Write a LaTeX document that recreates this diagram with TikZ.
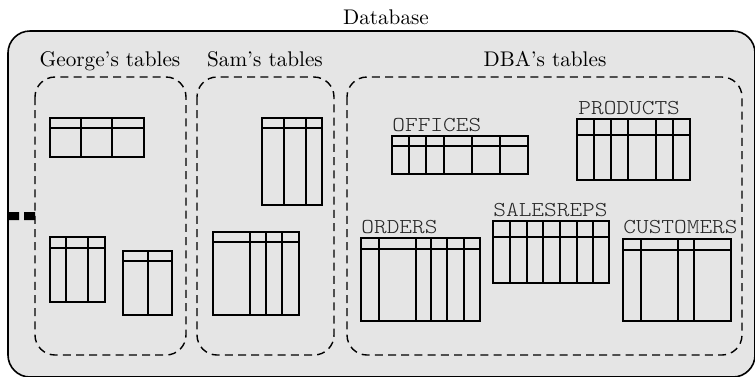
\documentclass[tikz,border=0pt]{standalone}
\usepackage{fontspec}
\newfontfamily\tabfont{lmmonolt10-regular.otf}[FakeStretch=1.14]
\usepackage{tikz}

\begin{document}
\begin{tikzpicture}[x=0.5pt,y=-0.5pt,
  lbl/.style={font=\fontsize{10.6}{12}\selectfont,inner sep=0,anchor=base},
  tname/.style={font=\tabfont\fontsize{10.6}{12}\selectfont,text=black!85,inner sep=0,anchor=base west},
  grp/.style={draw,dash pattern=on 4pt off 2.6pt,line width=0.7pt,rounded corners=10pt},
  tbl/.style={draw,line width=0.75pt},
  db/.style={draw,fill=black!10,line width=0.8pt,rounded corners=11pt}]
\useasboundingbox (0,0) rectangle (755,376);
% database
\draw[db] (8,31) rectangle (755,377);
\node[lbl] (dbtitle) at (386,24) {Database};
\fill (8,212) rectangle (19,220) (24,212) rectangle (35,220);
% groups
\draw[grp] (35,77) rectangle (186,355);
\draw[grp] (197,77) rectangle (334,355);
\draw[grp] (347,77) rectangle (742,355);
\node[lbl] (george) at (110,66) {George's tables};
\node[lbl] (sam) at (265,66) {Sam's tables};
\node[lbl] (dba) at (545,66) {DBA's tables};
% George's tables
\draw[tbl] (50,118) rectangle (144,157) (50,128) -- (144,128);
\foreach \c in {81,112} \draw[tbl] (\c,118) -- (\c,157);
\draw[tbl] (50,237) rectangle (105,302) (50,248) -- (105,248);
\foreach \c in {66,88} \draw[tbl] (\c,237) -- (\c,302);
\draw[tbl] (123,251) rectangle (172,315) (123,261) -- (172,261);
\draw[tbl] (148,251) -- (148,315);
% Sam's tables
\draw[tbl] (262,118) rectangle (322,205) (262,128) -- (322,128);
\foreach \c in {284,306} \draw[tbl] (\c,118) -- (\c,205);
\draw[tbl] (213,232) rectangle (299,315) (213,242) -- (299,242);
\foreach \c in {250,266,282} \draw[tbl] (\c,232) -- (\c,315);
% DBA's tables
\node[tname] (offices) at (392,131) {OFFICES};
\draw[tbl] (392,136) rectangle (528,174) (392,146) -- (528,146);
\foreach \c in {409,426,444,472,500} \draw[tbl] (\c,136) -- (\c,174);
\node[tname] (products) at (578,114) {PRODUCTS};
\draw[tbl] (577,119) rectangle (690,180) (577,135) -- (690,135);
\foreach \c in {594,611,628,656,673} \draw[tbl] (\c,119) -- (\c,180);
\node[tname] (orders) at (361,233) {ORDERS};
\draw[tbl] (361,238) rectangle (480,321) (361,249) -- (480,249);
\foreach \c in {379,416,431,447,464} \draw[tbl] (\c,238) -- (\c,321);
\node[tname] (salesreps) at (493,216) {SALESREPS};
\draw[tbl] (493,221) rectangle (609,283) (493,237) -- (609,237);
\foreach \c in {510,527,543,560,577,593} \draw[tbl] (\c,221) -- (\c,283);
\node[tname] (customers) at (623,233) {CUSTOMERS};
\draw[tbl] (623,239) rectangle (731,321) (623,250) -- (731,250);
\foreach \c in {641,678,694} \draw[tbl] (\c,239) -- (\c,321);
\end{tikzpicture}
\end{document}
